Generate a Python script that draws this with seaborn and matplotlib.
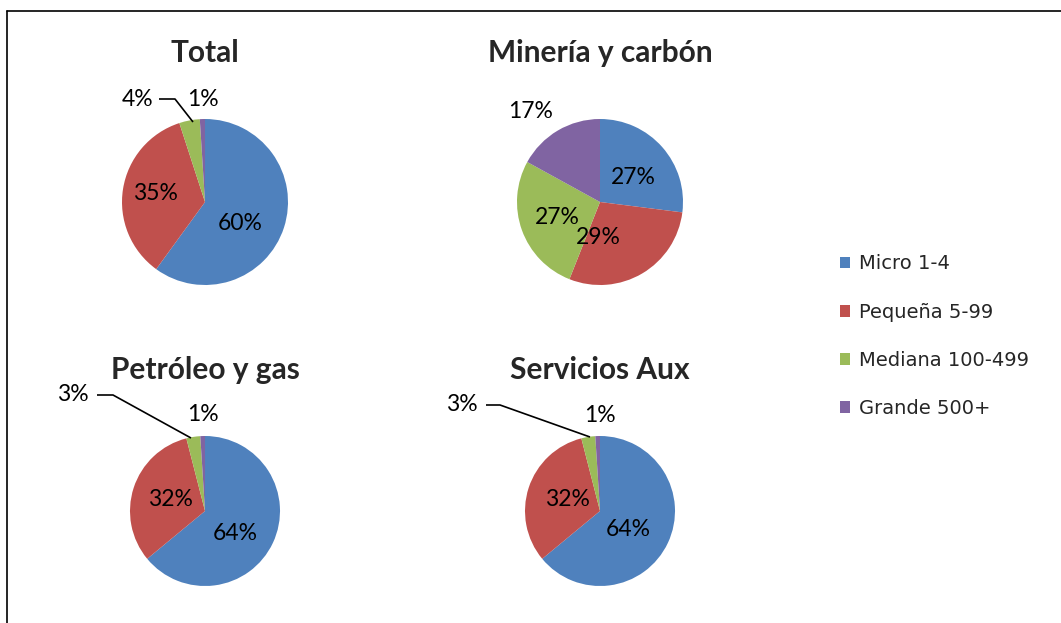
import matplotlib
matplotlib.use("Agg")
import matplotlib.pyplot as plt
import seaborn as sns
from matplotlib.patches import Patch
from matplotlib.lines import Line2D

# Company size shares (%) by sector
categories = ["Micro 1-4", "Pequeña 5-99", "Mediana 100-499", "Grande 500+"]
titles = ["Total", "Minería y carbón", "Petróleo y gas", "Servicios Aux"]
total = [60, 35, 4, 1]
mineria = [27, 29, 27, 17]
petroleo = [64, 32, 3, 1]
servicios = [64, 32, 3, 1]
series = [total, mineria, petroleo, servicios]

colors = ["#4F81BD", "#C0504D", "#9BBB59", "#8064A2"]

sns.set_theme(style="white")
plt.rcParams["font.family"] = ["Lato", "DejaVu Sans"]

W, H, DPI = 1061, 623, 100
fig = plt.figure(figsize=(W / DPI, H / DPI), dpi=DPI)
fig.patch.set_facecolor("white")

# frame lines along top and left
fig.add_artist(Line2D([7 / W, 1], [1 - 11 / H, 1 - 11 / H], color="black", lw=1.2))
fig.add_artist(Line2D([7 / W, 7 / W], [0, 1 - 11 / H], color="black", lw=1.2))

# pie layout in pixels: (center x, center y from top, radius)
layout = [(205, 202, 83), (600, 202, 83), (205, 511, 75), (600, 511, 75)]
title_y = [53, 53, 370, 370]

# label placement per pie: pixel offsets from the centre (dx, dy-down)
label_pos = [
    [(35, 22), (-50, -9), (-67, -103), (-2, -103)],
    [(33, -25), (-2, 36), (-43, 15), (-69, -90)],
    [(30, 22), (-35, -12), (-132, -116), (-2, -96)],
    [(28, 19), (-33, -12), (-138, -106), (0, -95)],
]
# leader lines for the small outside labels: (index, start, elbow, end on wedge)
leaders = [
    [(2, (-46, -103), (-30, -103), (-12, -80))],
    [],
    [(2, (-108, -116), (-92, -116), (-14, -73))],
    [(2, (-114, -106), (-100, -106), (-10, -74))],
]

S = 170
for k, (vals, title) in enumerate(zip(series, titles)):
    cx, cy, r = layout[k]
    ax = fig.add_axes([(cx - S) / W, (H - cy - S) / H, 2 * S / W, 2 * S / H])
    ax.pie(vals, colors=colors, startangle=90, counterclock=False, radius=r,
           wedgeprops=dict(linewidth=0), normalize=True)
    ax.set_xlim(-S, S)
    ax.set_ylim(-S, S)
    ax.set_aspect("equal")
    ax.axis("off")
    for v, (dx, dy) in zip(vals, label_pos[k]):
        ax.text(dx, -dy, f"{v}%", ha="center", va="center", fontsize=16.5,
                color="black")
    for idx, p0, p1, p2 in leaders[k]:
        ax.plot([p0[0], p1[0], p2[0]], [-p0[1], -p1[1], -p2[1]], color="black",
                lw=1.2, solid_capstyle="butt")
    ax.text(0, cy - title_y[k], title,
            ha="center", va="center", fontsize=21.5, fontweight="bold")

handles = [Patch(facecolor=c, edgecolor="none") for c in colors]
fig.legend(handles, categories, loc="upper left",
           bbox_to_anchor=(822 / W, 1 - 237 / H), frameon=False,
           prop={"family": "DejaVu Sans", "size": 14},
           handlelength=0.55, handleheight=0.55, handletextpad=0.45,
           labelspacing=1.5)

fig.savefig("out.png", dpi=DPI, facecolor="white")
